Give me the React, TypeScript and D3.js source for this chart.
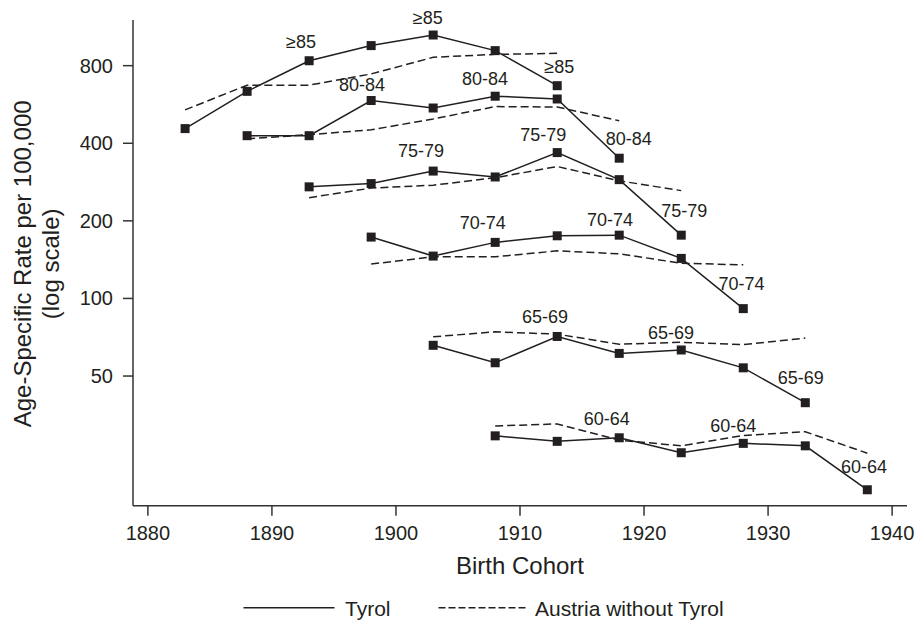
import React from "react";
import * as d3 from "d3";

// ---- data ----
const ageGroups = ["≥85", "80-84", "75-79", "70-74", "65-69", "60-64"];

// Tyrol (solid line with markers): [birth cohort, rate per 100,000]
const tyrol85: [number, number][] = [[1883, 456], [1888, 636], [1893, 836], [1898, 957], [1903, 1052], [1908, 915], [1913, 669]];
const tyrol80: [number, number][] = [[1888, 428], [1893, 428], [1898, 586], [1903, 548], [1908, 609], [1913, 594], [1918, 350]];
const tyrol75: [number, number][] = [[1893, 271], [1898, 279], [1903, 312], [1908, 296], [1913, 368], [1918, 289], [1923, 176]];
const tyrol70: [number, number][] = [[1898, 173], [1903, 146], [1908, 165], [1913, 175], [1918, 176], [1923, 143], [1928, 91.3]];
const tyrol65: [number, number][] = [[1903, 65.8], [1908, 56.3], [1913, 71.2], [1918, 61.2], [1923, 63.1], [1928, 53.8], [1933, 39.4]];
const tyrol60: [number, number][] = [[1908, 29.3], [1913, 27.9], [1918, 28.8], [1923, 25.2], [1928, 27.4], [1933, 26.8], [1938, 18.1]];

// Austria without Tyrol (dashed line)
const austria85: [number, number][] = [[1883, 539], [1888, 672], [1893, 672], [1898, 743], [1903, 862], [1908, 885], [1913, 893]];
const austria80: [number, number][] = [[1888, 416], [1893, 432], [1898, 451], [1903, 497], [1908, 555], [1913, 553], [1918, 489]];
const austria75: [number, number][] = [[1893, 246], [1898, 268], [1903, 275], [1908, 294], [1913, 325], [1918, 286], [1923, 262]];
const austria70: [number, number][] = [[1898, 136], [1903, 145], [1908, 145], [1913, 153], [1918, 149], [1923, 137], [1928, 135]];
const austria65: [number, number][] = [[1903, 71.0], [1908, 74.2], [1913, 72.7], [1918, 66.4], [1923, 67.6], [1928, 66.2], [1933, 70.2]];
const austria60: [number, number][] = [[1908, 32.0], [1913, 32.6], [1918, 28.2], [1923, 26.8], [1928, 29.4], [1933, 30.4], [1938, 25.1]];

const tyrolSeries = [tyrol85, tyrol80, tyrol75, tyrol70, tyrol65, tyrol60];
const austriaSeries = [austria85, austria80, austria75, austria70, austria65, austria60];

// age-group labels placed in data coordinates: [group index, cohort, rate]
const groupLabels: [number, number, number][] = [
  [0, 1892.35, 991], [0, 1902.56, 1233], [0, 1913.17, 793],
  [1, 1897.27, 673], [1, 1907.18, 710], [1, 1918.76, 418],
  [2, 1902.02, 374], [2, 1911.88, 432], [2, 1923.24, 219],
  [3, 1907.0, 196], [3, 1917.25, 202], [3, 1927.86, 113.6],
  [4, 1912.01, 85], [4, 1922.17, 73.5], [4, 1932.64, 49.4],
  [5, 1916.99, 34.3], [5, 1927.19, 32.1], [5, 1937.74, 22.3],
];

const xTicks = [1880, 1890, 1900, 1910, 1920, 1930, 1940];
const yTicks = [50, 100, 200, 400, 800];
const xDomain: [number, number] = [1878.8, 1941.2];
const yDomain: [number, number] = [15.7, 1203];

const legendItems = ["Tyrol", "Austria without Tyrol"];

// ---- layout ----
const W = 918;
const H = 622;
const left = 133;
const right = 907;
const top = 20;
const bottom = 505.7;
const ink = "#231f20";
const font = "'Liberation Sans', Arial, Helvetica, sans-serif";

export default function App() {
  const x = d3.scaleLinear().domain(xDomain).range([left, right]);
  const y = d3.scaleLog().domain(yDomain).range([bottom, top]);
  const line = d3
    .line<[number, number]>()
    .x((d) => x(d[0]))
    .y((d) => y(d[1]));

  const ms = 9;

  return (
    <svg
      width={W}
      height={H}
      viewBox={`0 0 ${W} ${H}`}
      style={{ position: "absolute", left: 0, top: 0, background: "#fff" }}
      fontFamily={font}
    >
      <rect x={0} y={0} width={W} height={H} fill="#fff" />
      {/* axes */}
      <line x1={left} x2={left} y1={top} y2={bottom} stroke="#333" strokeWidth={1.5} />
      <line x1={left} x2={right} y1={bottom} y2={bottom} stroke="#333" strokeWidth={1.5} />
      {yTicks.map((t) => (
        <g key={"y" + t}>
          <line x1={left - 10} x2={left} y1={y(t)} y2={y(t)} stroke="#333" strokeWidth={1.5} />
          <text x={left - 20} y={y(t)} dy="0.35em" textAnchor="end" fontSize={20} fill={ink}>
            {t}
          </text>
        </g>
      ))}
      {xTicks.map((t) => (
        <g key={"x" + t}>
          <line x1={x(t)} x2={x(t)} y1={bottom} y2={bottom + 10} stroke="#333" strokeWidth={1.5} />
          <text x={x(t)} y={539.5} textAnchor="middle" fontSize={20} fill={ink}>
            {t}
          </text>
        </g>
      ))}
      <text x={(left + right) / 2} y={574} textAnchor="middle" fontSize={24} fill={ink}>
        Birth Cohort
      </text>
      <text
        transform={`translate(30.5, ${(top + bottom) / 2 + 1}) rotate(-90)`}
        textAnchor="middle"
        fontSize={24}
        fill={ink}
      >
        Age-Specific Rate per 100,000
      </text>
      <text
        transform={`translate(58.5, ${(top + bottom) / 2 + 1}) rotate(-90)`}
        textAnchor="middle"
        fontSize={24}
        fill={ink}
      >
        (log scale)
      </text>

      {/* Austria without Tyrol: dashed */}
      {austriaSeries.map((s, i) => (
        <path key={"a" + i} d={line(s) || ""} fill="none" stroke={ink} strokeWidth={1.5} strokeDasharray="8,4" />
      ))}
      {/* Tyrol: solid with square markers */}
      {tyrolSeries.map((s, i) => (
        <g key={"t" + i}>
          <path d={line(s) || ""} fill="none" stroke={ink} strokeWidth={1.5} />
          {s.map((d, j) => (
            <rect key={j} x={x(d[0]) - ms / 2} y={y(d[1]) - ms / 2} width={ms} height={ms} fill={ink} />
          ))}
        </g>
      ))}

      {/* age group labels */}
      {groupLabels.map((l, i) => (
        <text key={"l" + i} x={x(l[1])} y={y(l[2])} dy="0.35em" textAnchor="middle" fontSize={18} fill={ink}>
          {ageGroups[l[0]]}
        </text>
      ))}

      {/* legend */}
      <line x1={243.5} x2={334.5} y1={607.7} y2={607.7} stroke={ink} strokeWidth={1.5} />
      <text x={345} y={615.5} fontSize={21} fill={ink}>
        {legendItems[0]}
      </text>
      <line x1={438.5} x2={528} y1={607.7} y2={607.7} stroke={ink} strokeWidth={1.5} strokeDasharray="7,3" />
      <text x={535} y={615.5} fontSize={21} fill={ink}>
        {legendItems[1]}
      </text>
    </svg>
  );
}
